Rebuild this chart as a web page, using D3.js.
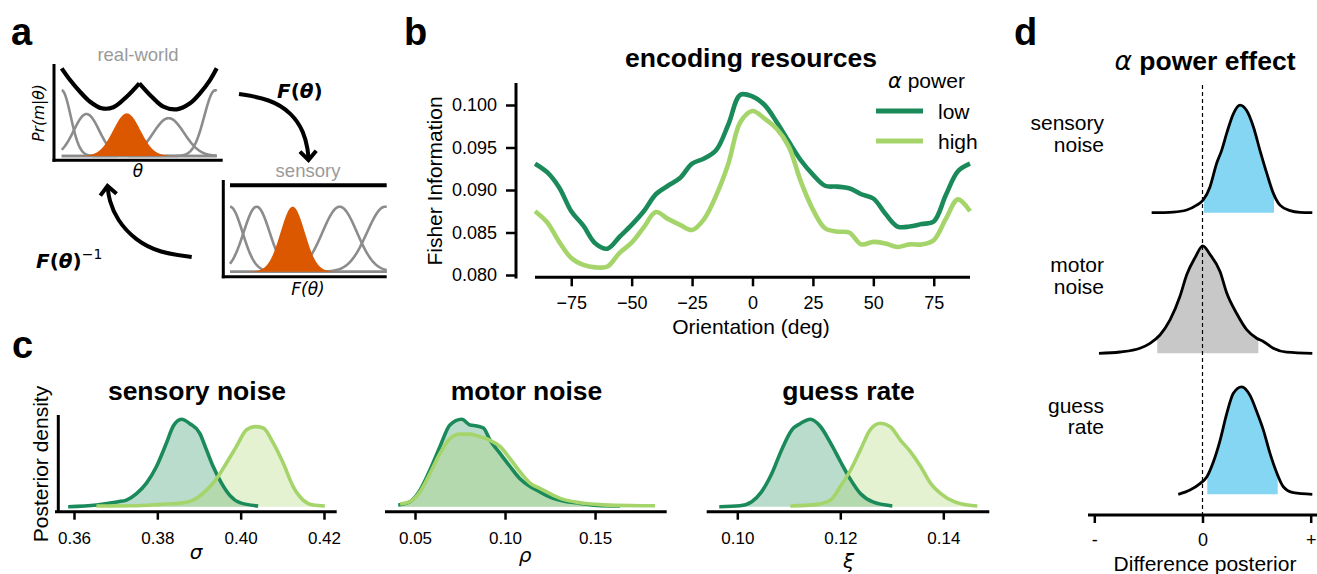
<!DOCTYPE html>
<html>
<head>
<meta charset="utf-8">
<script src="https://cdn.jsdelivr.net/npm/d3@7/dist/d3.min.js"></script>
<style>
html,body{margin:0;padding:0;background:#fff;}
svg{display:block;}
</style>
</head>
<body>
<svg id="fig" width="1317" height="574"></svg>
<script>
// ================= DATA =================
// Panel a (schematic): prior / tuning curves in normalised box units
const realWorldPrior = [[0,0.974],[0.054,0.844],[0.118,0.714],[0.183,0.603],[0.258,0.53],[0.333,0.541],[0.419,0.659],[0.501,0.808],[0.581,0.659],[0.656,0.548],[0.742,0.519],[0.828,0.586],[0.892,0.697],[0.957,0.844],[1,0.974]];
const realCenters = [0.0, 0.16, 0.42, 0.69, 0.99];
const realWidths  = [0.058, 0.082, 0.087, 0.10, 0.07];
const realHeights = [0.73, 0.467, 0.474, 0.42, 0.73];
const sensoryCenters = [0.0, 0.17, 0.40, 0.70, 0.99];
const sensoryWidths  = [0.08, 0.083, 0.077, 0.11, 0.115];
const sensoryHeights = [1, 1, 1, 1, 1];
const sensoryPriorLevel = 1.33;
const highlightedNeuron = 2;

// Panel b: Fisher information vs orientation
const orientations = [-90,-85,-80,-75,-70,-65,-60,-55,-50,-45,-40,-35,-30,-25,-20,-15,-10,-5,0,5,10,15,20,25,30,35,40,45,50,55,60,65,70,75,80,85,90];
const fisherLow  = [0.0931,0.0921,0.0903,0.0875,0.0858,0.0837,0.0831,0.0845,0.0859,0.0875,0.0895,0.0905,0.0914,0.0931,0.0937,0.0947,0.0977,0.1012,0.1010,0.1000,0.0980,0.0957,0.0935,0.0918,0.0905,0.0904,0.0902,0.0895,0.0890,0.0872,0.0857,0.0857,0.0860,0.0863,0.0894,0.0922,0.0931];
const fisherHigh = [0.0875,0.0862,0.0839,0.0820,0.0812,0.0809,0.0810,0.0826,0.0838,0.0856,0.0874,0.0866,0.0859,0.0853,0.0866,0.0894,0.0931,0.0980,0.0993,0.0984,0.0972,0.0951,0.0910,0.0877,0.0855,0.0851,0.0850,0.0836,0.0839,0.0837,0.0833,0.0836,0.0836,0.0841,0.0866,0.0889,0.0875];
const fisherTicks = [0.080, 0.085, 0.090, 0.095, 0.100];
const orientationTicks = [-75, -50, -25, 0, 25, 50, 75];
const seriesNames = ["low", "high"];

// Panel c: posterior densities (value, relative density)
const sensoryLow  = [[0.3586,0],[0.3654,0.02],[0.3706,0.057],[0.3726,0.076],[0.3750,0.15],[0.3774,0.27],[0.3798,0.46],[0.3822,0.73],[0.3838,0.92],[0.3858,1.0],[0.3878,0.95],[0.3902,0.84],[0.3918,0.65],[0.3934,0.46],[0.3954,0.27],[0.3974,0.13],[0.3998,0.046],[0.4042,0.008]];
const sensoryHigh = [[0.3654,0.008],[0.3742,0.011],[0.3806,0.027],[0.3862,0.046],[0.3886,0.076],[0.3918,0.19],[0.3942,0.32],[0.3966,0.50],[0.3990,0.69],[0.4014,0.88],[0.4034,0.916],[0.4054,0.90],[0.4078,0.73],[0.4102,0.50],[0.4126,0.23],[0.4150,0.076],[0.4174,0.019],[0.4202,0.008]];
const motorLow  = [[0.0407,0.02],[0.0472,0.057],[0.0528,0.19],[0.0583,0.42],[0.0639,0.69],[0.0694,0.935],[0.0759,1.0],[0.0806,0.935],[0.0843,0.924],[0.0880,0.90],[0.0917,0.76],[0.0972,0.61],[0.1028,0.46],[0.1083,0.32],[0.1139,0.23],[0.1194,0.17],[0.1250,0.11],[0.1324,0.065],[0.1417,0.038],[0.1509,0.015],[0.1639,0.008]];
const motorHigh = [[0.0417,0.03],[0.0472,0.057],[0.0528,0.17],[0.0583,0.38],[0.0639,0.61],[0.0694,0.78],[0.0750,0.83],[0.0806,0.83],[0.0861,0.80],[0.0917,0.76],[0.0972,0.69],[0.1028,0.55],[0.1083,0.40],[0.1139,0.27],[0.1194,0.21],[0.1250,0.15],[0.1324,0.084],[0.1417,0.046],[0.1509,0.027],[0.1620,0.015],[0.1833,0.011]];
const guessLow  = [[0.0965,0],[0.1005,0.011],[0.1028,0.057],[0.1047,0.17],[0.1067,0.38],[0.1086,0.65],[0.1106,0.88],[0.1122,0.95],[0.1142,1.0],[0.1161,0.92],[0.1181,0.73],[0.1200,0.52],[0.1220,0.31],[0.1239,0.15],[0.1262,0.057],[0.1301,0.008]];
const guessHigh = [[0.1103,0.008],[0.1155,0.027],[0.1181,0.076],[0.1200,0.23],[0.1220,0.42],[0.1239,0.65],[0.1258,0.88],[0.1278,0.954],[0.1297,0.916],[0.1317,0.76],[0.1336,0.63],[0.1356,0.46],[0.1375,0.27],[0.1395,0.15],[0.1421,0.057],[0.1447,0.019],[0.1466,0.008]];
const sensoryTicks = [0.36, 0.38, 0.40, 0.42];
const motorTicks = [0.05, 0.10, 0.15];
const guessTicks = [0.10, 0.12, 0.14];

// Panel d: difference posteriors (normalised difference, relative density)
const diffSensory = [[-0.470,0],[-0.27,0.006],[-0.146,0.025],[-0.054,0.07],[0.008,0.12],[0.069,0.24],[0.131,0.46],[0.177,0.58],[0.224,0.74],[0.285,0.92],[0.347,1.0],[0.408,0.95],[0.470,0.80],[0.531,0.58],[0.593,0.37],[0.655,0.18],[0.716,0.07],[0.809,0.019],[0.901,0.003],[1.015,0]];
const diffMotor = [[-0.957,0],[-0.762,0.012],[-0.578,0.047],[-0.485,0.093],[-0.393,0.17],[-0.300,0.31],[-0.208,0.53],[-0.146,0.73],[-0.069,0.89],[0.002,1.0],[0.069,0.92],[0.162,0.76],[0.224,0.56],[0.316,0.37],[0.408,0.22],[0.501,0.14],[0.562,0.11],[0.654,0.047],[0.778,0.01],[1.015,0]];
const diffGuess = [[-0.224,0],[-0.116,0.04],[-0.023,0.10],[0.039,0.16],[0.1,0.30],[0.162,0.50],[0.224,0.75],[0.285,0.94],[0.362,1.0],[0.439,0.92],[0.501,0.77],[0.562,0.60],[0.624,0.38],[0.686,0.20],[0.747,0.07],[0.839,0.015],[1.015,0]];
const diffIntervals = [[0.014, 0.661], [-0.418, 0.516], [0.044, 0.695]];
const diffSignificant = [true, false, true];
const diffRowLabels = [["sensory","noise"],["motor","noise"],["guess","rate"]];
const diffTicks = [-1, 0, 1];
const diffTickLabels = ["-", "0", "+"];

// ================= DRAWING =================
const FONT = '"Liberation Sans", Arial, Helvetica, sans-serif';
const MATH = '"DejaVu Sans", sans-serif';
const DARK = '#1b8a5a', LIGHT = '#a5d56a', ORANGE = '#db5800', GRAY = '#8c8c8c';
const svg = d3.select('#fig').attr('font-family', FONT);

function styleAxis(g, size) {
  g.attr('font-family', FONT).attr('font-size', size);
  g.select('.domain').remove();
  g.selectAll('.tick line').attr('stroke', '#000').attr('stroke-width', 2.5);
  g.selectAll('.tick text').attr('fill', '#000').attr('font-size', size);
}
function spine(x1, y1, x2, y2) {
  svg.append('line').attr('x1', x1).attr('y1', y1).attr('x2', x2).attr('y2', y2)
    .attr('stroke', '#000').attr('stroke-width', 3).attr('stroke-linecap', 'butt');
}
function text(x, y, s, size, opts = {}) {
  const t = svg.append('text').attr('x', x).attr('y', y).attr('font-size', size)
    .attr('text-anchor', opts.anchor || 'start').attr('fill', opts.fill || '#000')
    .attr('font-weight', opts.weight || 'normal').attr('font-style', opts.style || 'normal');
  if (opts.family) t.attr('font-family', opts.family);
  if (opts.transform) t.attr('transform', opts.transform).attr('x', 0).attr('y', 0);
  t.text(s);
  return t;
}

// panel letters
[['a', 11, 45], ['b', 404, 45], ['c', 12, 358], ['d', 1014, 45]].forEach(([l, x, y]) =>
  text(x, y, l, 38, { weight: 'bold' }));

// ---------- Panel a ----------
(function () {
  const us = d3.range(0, 1.0001, 0.004);
  const bump = (c, s, h) => us.map(u => [u, h * Math.exp(-0.5 * ((u - c) / s) ** 2)]);

  function box(uSc, vSc, centers, widths, heights) {
    const line = d3.line().x(d => uSc(d[0])).y(d => vSc(d[1]));
    const area = d3.area().x(d => uSc(d[0])).y0(vSc(0)).y1(d => vSc(d[1]));
    centers.forEach((c, i) => {
      if (i === highlightedNeuron) return;
      svg.append('path').attr('d', line(bump(c, widths[i], heights[i])))
        .attr('fill', 'none').attr('stroke', GRAY).attr('stroke-width', 2.6);
    });
    const i = highlightedNeuron;
    svg.append('path').attr('d', area(bump(centers[i], widths[i], heights[i])))
      .attr('fill', ORANGE);
  }

  // real-world box
  const uR = d3.scaleLinear([0, 1], [61.7, 216.7]);
  const vR = d3.scaleLinear([0, 1], [156, 66]);
  box(uR, vR, realCenters, realWidths, realHeights);
  const cusp = realWorldPrior.findIndex(d => d[0] === 0.501);
  const pl = d3.line().x(d => uR(d[0])).y(d => vR(d[1])).curve(d3.curveCatmullRom);
  [realWorldPrior.slice(0, cusp + 1), realWorldPrior.slice(cusp)].forEach(seg =>
    svg.append('path').attr('d', pl(seg)).attr('fill', 'none').attr('stroke', '#000')
      .attr('stroke-width', 4.2).attr('stroke-linejoin', 'miter'));
  spine(54, 64, 54, 161.7);
  spine(52.5, 160.2, 222.7, 160.2);
  text(138, 61, 'real-world', 18.5, { anchor: 'middle', fill: '#9a9a9a' });
  text(0, 0, '', 15.5, { transform: 'translate(44,113) rotate(-90)', anchor: 'middle', style: 'italic', family: MATH })
    .text('Pr(m|θ)');
  text(138, 177, 'θ', 17, { anchor: 'middle', style: 'italic', family: MATH });

  // sensory box
  const uS = d3.scaleLinear([0, 1], [230, 386.7]);
  const vS = d3.scaleLinear([0, 1], [271.7, 206.7]);
  box(uS, vS, sensoryCenters, sensoryWidths, sensoryHeights);
  svg.append('path').attr('d', d3.line().x(d => uS(d[0])).y(d => vS(d[1]))([[0, sensoryPriorLevel], [1, sensoryPriorLevel]]))
    .attr('stroke', '#000').attr('stroke-width', 4.2);
  spine(223.3, 180, 223.3, 278.3);
  spine(221.8, 276.8, 386.7, 276.8);
  text(308, 177, 'sensory', 18.5, { anchor: 'middle', fill: '#9a9a9a' });
  text(308, 295, 'F(θ)', 17, { anchor: 'middle', style: 'italic', family: MATH });

  // arrows
  function arrow(pts) {
    svg.append('path').attr('d', d3.line().curve(d3.curveBasis)(pts))
      .attr('fill', 'none').attr('stroke', '#000').attr('stroke-width', 4);
    const [x1, y1] = pts[pts.length - 2], [x2, y2] = pts[pts.length - 1];
    const a = Math.atan2(y2 - y1, x2 - x1), L = 12, sp = 0.75;
    const p1 = [x2 - L * Math.cos(a - sp), y2 - L * Math.sin(a - sp)];
    const p2 = [x2 - L * Math.cos(a + sp), y2 - L * Math.sin(a + sp)];
    svg.append('path').attr('d', `M${p1}L${x2},${y2}L${p2}`).attr('fill', 'none')
      .attr('stroke', '#000').attr('stroke-width', 4).attr('stroke-linejoin', 'miter');
  }
  arrow([[239, 94], [270, 99], [292, 113], [304, 132], [308, 150], [308.5, 160]]);
  arrow([[191.7, 257], [160, 253], [135, 240], [117, 220], [109, 200], [107.5, 186]]);

  const t1 = svg.append('text').attr('x', 277).attr('y', 98).attr('font-size', 20).attr('font-family', MATH);
  t1.append('tspan').attr('font-weight', 'bold').attr('font-style', 'italic').text('F');
  t1.append('tspan').attr('font-weight', 'bold').text('(');
  t1.append('tspan').attr('font-style', 'italic').attr('font-weight', 'bold').text('θ');
  t1.append('tspan').attr('font-weight', 'bold').text(')');
  const t2 = svg.append('text').attr('x', 36).attr('y', 268).attr('font-size', 20).attr('font-family', MATH);
  t2.append('tspan').attr('font-weight', 'bold').attr('font-style', 'italic').text('F');
  t2.append('tspan').attr('font-weight', 'bold').text('(');
  t2.append('tspan').attr('font-style', 'italic').attr('font-weight', 'bold').text('θ');
  t2.append('tspan').attr('font-weight', 'bold').text(')');
  t2.append('tspan').attr('font-size', 14).attr('dy', -9).text('−1');
})();

// ---------- Panel b ----------
(function () {
  const xB = d3.scaleLinear([-90, 90], [535, 970]);
  const yB = d3.scaleLinear([0.080, 0.100], [275, 105]);
  svg.append('g').attr('transform', 'translate(516,0)')
    .call(d3.axisLeft(yB).tickValues(fisherTicks).tickFormat(d3.format('.3f')).tickSize(10).tickPadding(9))
    .call(g => styleAxis(g, 18));
  spine(516, 83, 516, 278.5);
  svg.append('g').attr('transform', 'translate(0,277.3)')
    .call(d3.axisBottom(xB).tickValues(orientationTicks).tickSize(9).tickPadding(10))
    .call(g => styleAxis(g, 18));
  spine(xB(-90), 277.3, xB(90), 277.3);

  const line = d3.line().x((d, i) => xB(orientations[i])).y(d => yB(d)).curve(d3.curveCatmullRom.alpha(0.5));
  [[fisherLow, DARK], [fisherHigh, LIGHT]].forEach(([vals, col]) =>
    svg.append('path').attr('d', line(vals)).attr('fill', 'none').attr('stroke', col)
      .attr('stroke-width', 4.6).attr('stroke-linejoin', 'round'));

  text(751, 67, 'encoding resources', 26.5, { anchor: 'middle', weight: 'bold' });
  text(0, 0, 'Fisher Information', 21, { transform: 'translate(442,181) rotate(-90)', anchor: 'middle' });
  text(751, 334, 'Orientation (deg)', 21, { anchor: 'middle' });

  // legend
  const lt = svg.append('text').attr('x', 888).attr('y', 88).attr('font-size', 21);
  lt.append('tspan').attr('font-family', MATH).attr('font-style', 'italic').text('α');
  lt.append('tspan').text(' power');
  [DARK, LIGHT].forEach((col, i) => {
    const y = 111 + i * 30;
    svg.append('line').attr('x1', 876).attr('x2', 923).attr('y1', y).attr('y2', y)
      .attr('stroke', col).attr('stroke-width', 5);
    text(938, y + 7.5, seriesNames[i], 21);
  });
})();

// ---------- Panel c ----------
(function () {
  const yC = d3.scaleLinear([0, 1], [506.7, 419.3]);
  const panels = [
    { low: sensoryLow, high: sensoryHigh, dom: [0.35544, 0.42305], rng: [55, 336.7], ticks: sensoryTicks, title: 'sensory noise', sym: 'σ', tx: 197, sx: 196, sy: 559 },
    { low: motorLow, high: motorHigh, dom: [0.03333, 0.1898], rng: [385, 666.7], ticks: motorTicks, title: 'motor noise', sym: 'ρ', tx: 526.5, sx: 525, sy: 562 },
    { low: guessLow, high: guessHigh, dom: [0.09406, 0.14893], rng: [706.7, 989.3], ticks: guessTicks, title: 'guess rate', sym: 'ξ', tx: 848.5, sx: 848.5, sy: 568 }
  ];
  panels.forEach(p => {
    const x = d3.scaleLinear(p.dom, p.rng);
    const area = d3.area().x(d => x(d[0])).y0(yC(0)).y1(d => yC(d[1])).curve(d3.curveMonotoneX);
    const line = d3.line().x(d => x(d[0])).y(d => yC(d[1])).curve(d3.curveMonotoneX);
    svg.append('path').attr('d', area(p.low)).attr('fill', DARK).attr('fill-opacity', 0.3);
    svg.append('path').attr('d', area(p.high)).attr('fill', LIGHT).attr('fill-opacity', 0.3);
    svg.append('path').attr('d', line(p.low)).attr('fill', 'none').attr('stroke', DARK).attr('stroke-width', 3.6);
    svg.append('path').attr('d', line(p.high)).attr('fill', 'none').attr('stroke', LIGHT).attr('stroke-width', 3.6);
    svg.append('g').attr('transform', 'translate(0,511.7)')
      .call(d3.axisBottom(x).tickValues(p.ticks).tickFormat(d3.format('.2f')).tickSize(8).tickPadding(12))
      .call(g => styleAxis(g, 17));
    spine(p.rng[0], 511.7, p.rng[1], 511.7);
    text(p.tx, 400, p.title, 26.5, { anchor: 'middle', weight: 'bold' });
    text(p.sx, p.sy, p.sym, 20, { anchor: 'middle', style: 'italic', family: MATH });
  });
  spine(58.3, 415, 58.3, 513);
  text(0, 0, 'Posterior density', 21, { transform: 'translate(48,464) rotate(-90)', anchor: 'middle' });
})();

// ---------- Panel d ----------
(function () {
  const xD = d3.scaleLinear([-1, 1], [1094.3, 1310.7]);
  const baselines = [212.7, 353.3, 494.3];
  const H = 107.5;
  const data = [diffSensory, diffMotor, diffGuess];
  const defs = svg.append('defs');
  data.forEach((dat, i) => {
    const base = baselines[i];
    const yD = d3.scaleLinear([0, 1], [base, base - H]);
    const id = 'clipd' + i;
    defs.append('clipPath').attr('id', id).append('rect')
      .attr('x', xD(diffIntervals[i][0])).attr('width', xD(diffIntervals[i][1]) - xD(diffIntervals[i][0]))
      .attr('y', 0).attr('height', 574);
    const area = d3.area().x(d => xD(d[0])).y0(yD(0)).y1(d => yD(d[1])).curve(d3.curveMonotoneX);
    const line = d3.line().x(d => xD(d[0])).y(d => yD(d[1])).curve(d3.curveMonotoneX);
    svg.append('path').attr('d', area(dat)).attr('clip-path', `url(#${id})`)
      .attr('fill', diffSignificant[i] ? '#84d6f3' : '#c8c8c8');
    svg.append('path').attr('d', line(dat)).attr('fill', 'none').attr('stroke', '#000').attr('stroke-width', 2.8);
    const lab = diffRowLabels[i];
    text(1104, [129.5, 271.5, 412.5][i], lab[0], 21, { anchor: 'end' });
    text(1104, [152, 293.5, 434][i], lab[1], 21, { anchor: 'end' });
  });
  svg.append('line').attr('x1', xD(0)).attr('x2', xD(0)).attr('y1', 85).attr('y2', 514)
    .attr('stroke', '#000').attr('stroke-width', 1.2).attr('stroke-dasharray', '4,3');
  svg.append('g').attr('transform', 'translate(0,515)')
    .call(d3.axisBottom(xD).tickValues(diffTicks).tickFormat((d, i) => diffTickLabels[i]).tickSize(8).tickPadding(10))
    .call(g => styleAxis(g, 18));
  spine(1088, 515, 1317, 515);
  text(1205, 570.5, 'Difference posterior', 21, { anchor: 'middle' });
  const tt = svg.append('text').attr('x', 1205).attr('y', 70).attr('font-size', 26.5).attr('text-anchor', 'middle');
  tt.append('tspan').attr('font-family', MATH).attr('font-style', 'italic').text('α');
  tt.append('tspan').attr('font-weight', 'bold').text(' power effect');
})();
</script>
</body>
</html>
